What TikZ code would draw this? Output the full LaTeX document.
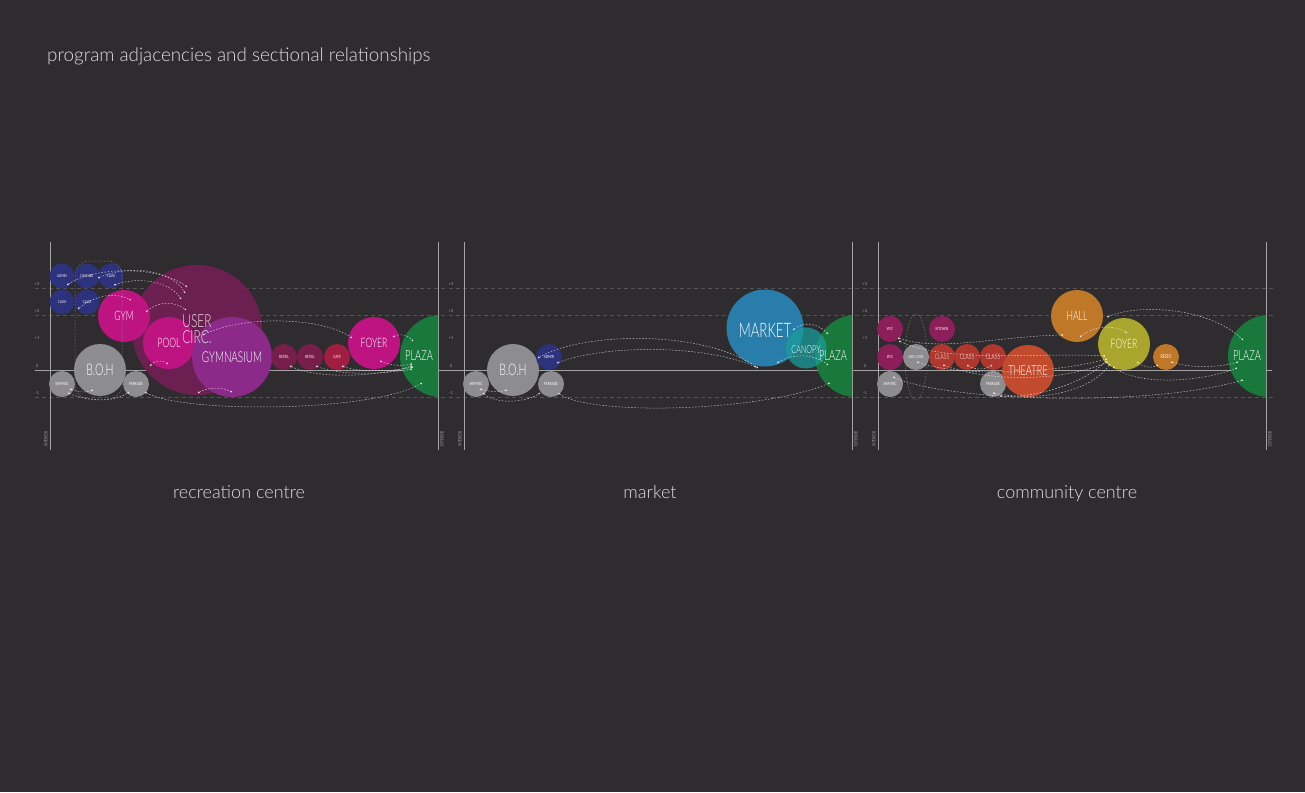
\documentclass[tikz,border=0pt]{standalone}
\usepackage{fontspec}
\setmainfont{Lato}
\newfontfamily\nf[FakeStretch=0.66]{Lato Light}
\newfontfamily\nfs[FakeStretch=0.7]{Lato}
\newfontfamily\lt{Lato Light}
\usetikzlibrary{arrows.meta}
\definecolor{bg}{HTML}{2E2C2E}
\definecolor{cblue}{HTML}{2D327D}
\definecolor{cmag}{HTML}{BE1482}
\definecolor{cuser}{HTML}{6C2052}
\definecolor{cgymn}{HTML}{8B2A88}
\definecolor{cgray}{HTML}{8D8C8E}
\definecolor{cretail}{HTML}{781E4B}
\definecolor{ccafe}{HTML}{A01E41}
\definecolor{cgreen}{HTML}{19783C}
\definecolor{cmarket}{HTML}{287DAA}
\definecolor{ccanopy}{HTML}{1A9C9A}
\definecolor{cwc}{HTML}{8C1E5A}
\definecolor{cclass}{HTML}{AF372D}
\definecolor{ctheatre}{HTML}{C34B2D}
\definecolor{chall}{HTML}{BE7828}
\definecolor{cfoyer}{HTML}{AAA52D}
\definecolor{ctext}{HTML}{DCDCDC}
\definecolor{cline}{HTML}{A3A3A3}
\definecolor{cgrid}{HTML}{555355}
\tikzset{
  cir/.style={circle, inner sep=0pt, text=white, font=\nf},
  lbl/.style={inner sep=0pt, text=white, font=\nf},
  con/.style={draw=white, opacity=0.7, line width=0.5pt, dash pattern=on 1.6pt off 1.6pt,
    {Circle[length=1.8pt]}-{Circle[length=1.8pt]}},
  core/.style={draw=cline, opacity=0.6, line width=0.5pt, dash pattern=on 1.6pt off 1.6pt},
  grid/.style={draw=cgrid, line width=0.6pt, dash pattern=on 4pt off 3pt},
  axis/.style={draw=cline, line width=0.9pt},
  tick/.style={inner sep=0pt, text=cline, font=\fontsize{4}{4}\selectfont},
  side/.style={inner sep=0pt, text=cline, font=\nfs\fontsize{4.6}{5}\selectfont, rotate=90},
  ttl/.style={inner sep=0pt, text=ctext, font=\lt\fontsize{18.8}{22}\selectfont},
  sub/.style={inner sep=0pt, text=ctext, font=\lt\fontsize{18}{22}\selectfont}
}
\begin{document}
\begin{tikzpicture}[x=1pt,y=-1pt]
\useasboundingbox (0,0) rectangle (1305,792);
\fill[bg] (0,0) rectangle (1305,792);

% titles
\node[ttl, anchor=base west] (title) at (47,61) {program adjacencies and sectional relationships};
\node[sub, anchor=base] (t1) at (239,498) {recreation centre};
\node[sub, anchor=base] (t2) at (650,498) {market};
\node[sub, anchor=base] (t3) at (1067,498) {community centre};

% grids for three panels
\foreach \dx/\k in {0/a,414/b,828/c}{
  \begin{scope}[shift={(\dx,0)}]
    \draw[grid] (35,288) -- (445,288);
    \draw[grid] (35,315) -- (445,315);
    \draw[grid] (35,397) -- (445,397);
    \draw[axis] (50,242) -- (50,450);
    \draw[axis] (438,242) -- (438,450);
    \node[tick] (p3\k) at (37,284) {+3};
    \node[tick] (p2\k) at (37,311) {+2};
    \node[tick] (p1\k) at (37,338) {+1};
    \node[tick] (z\k) at (37,366) {0};
    \node[tick] (m1\k) at (37,393) {-1};
    \node[side] (int\k) at (46,439) {INTERIOR};
    \node[side] (ext\k) at (442,439) {EXTERIOR};
  \end{scope}
}
\draw[axis] (35,370) -- (1272,370);

% ================= panel 1: recreation centre =================
\node[cir, fill=cuser, minimum size=130pt] (user) at (197,330) {};
\node[cir, fill=cblue, minimum size=25pt, font=\nfs\fontsize{4}{4}\selectfont] (admin) at (62,276) {ADMIN};
\node[cir, fill=cblue, minimum size=25pt, font=\nfs\fontsize{4}{4}\selectfont] (daycare) at (87,276) {DAYCARE};
\node[cir, fill=cblue, minimum size=25pt, font=\nfs\fontsize{4}{4}\selectfont] (classa) at (111,276) {CLASS};
\node[cir, fill=cblue, minimum size=25pt, font=\nfs\fontsize{4}{4}\selectfont] (classb) at (62,302) {CLASS};
\node[cir, fill=cblue, minimum size=25pt, font=\nfs\fontsize{4}{4}\selectfont] (classc) at (87,302) {CLASS};
\node[cir, fill=cmag, minimum size=52pt, font=\nf\fontsize{13}{13}\selectfont] (gym) at (124,316) {GYM};
\node[cir, fill=cmag, minimum size=52pt, font=\nf\fontsize{13}{13}\selectfont] (pool) at (169,343) {POOL};
\node[cir, fill=cgymn, minimum size=80pt] (gymn) at (232,357) {};
\node[lbl, font=\nf\fontsize{15}{15}\selectfont] (gymnl) at (232,357) {GYMNASIUM};
\node[lbl, align=left, text opacity=0.85, font=\nf\fontsize{18}{16}\selectfont] (userl) at (197,329) {USER\\CIRC.};
\node[cir, fill=cgray, minimum size=52pt, font=\nf\fontsize{16}{16}\selectfont] (boh) at (100,370) {B.O.H};
\node[cir, fill=cgray, minimum size=26pt, font=\nfs\fontsize{4.3}{4}\selectfont] (ship) at (62,384) {SHIP/REC};
\node[cir, fill=cgray, minimum size=26pt, font=\nfs\fontsize{4.3}{4}\selectfont] (park) at (136,384) {PARKADE};
\node[cir, fill=cretail, minimum size=26pt, font=\nfs\fontsize{4.3}{4}\selectfont] (ret1) at (284,357) {RETAIL};
\node[cir, fill=cretail, minimum size=26pt, font=\nfs\fontsize{4.3}{4}\selectfont] (ret2) at (310,357) {RETAIL};
\node[cir, fill=ccafe, minimum size=26pt, font=\nfs\fontsize{4.3}{4}\selectfont] (cafe) at (337,357) {CAFE};
\node[cir, fill=cmag, minimum size=52pt, font=\nf\fontsize{13}{13}\selectfont] (foyer) at (374,343) {FOYER};
\begin{scope}
  \clip (0,0) rectangle (438,792);
  \node[cir, fill=cgreen, minimum size=82pt] (plaza) at (441,356) {};
\end{scope}
\node[lbl, font=\nf\fontsize{14}{14}\selectfont] (plazal) at (419,356) {PLAZA};
\draw[core, rounded corners=14pt] (75,261) rectangle (122,399);

\coordinate (a1) at (67,285);  \coordinate (a2) at (187,287);
\coordinate (a3) at (98,278);  \coordinate (a4) at (185,293);
\coordinate (a5) at (114,285); \coordinate (a6) at (181,299);
\coordinate (a7) at (78,309);  \coordinate (a8) at (131,300);
\coordinate (a9) at (146,312); \coordinate (a10) at (186,310);
\coordinate (a11) at (203,335); \coordinate (a12) at (352,338);
\coordinate (a13) at (393,337); \coordinate (a14) at (413,341);
\coordinate (a15) at (290,366); \coordinate (a16) at (412,366);
\coordinate (a17) at (316,366); \coordinate (a18) at (412,369);
\coordinate (a19) at (342,366); \coordinate (a20) at (413,367);
\coordinate (a21) at (380,361); \coordinate (a22) at (412,364);
\coordinate (a23) at (68,393);  \coordinate (a24) at (129,392);
\coordinate (a25) at (70,389);  \coordinate (a26) at (93,390);
\coordinate (a27) at (145,392); \coordinate (a28) at (422,383);
\coordinate (a29) at (150,366); \coordinate (a30) at (168,364);
\coordinate (a31) at (198,393); \coordinate (a32) at (232,392);
\draw[con] (a1) .. controls (95,266) and (160,266) .. (a2);
\draw[con] (a3) .. controls (130,264) and (172,270) .. (a4);
\draw[con] (a5) .. controls (140,276) and (170,282) .. (a6);
\draw[con] (a7) .. controls (95,295) and (115,292) .. (a8);
\draw[con] (a9) .. controls (160,300) and (176,302) .. (a10);
\draw[con] (a11) .. controls (240,316) and (320,316) .. (a12);
\draw[con] (a13) .. controls (400,333) and (408,335) .. (a14);
\draw[con] (a15) .. controls (320,380) and (380,376) .. (a16);
\draw[con] (a17) .. controls (340,376) and (385,374) .. (a18);
\draw[con] (a19) .. controls (360,373) and (395,371) .. (a20);
\draw[con] (a21) .. controls (392,366) and (402,366) .. (a22);
\draw[con] (a23) .. controls (90,402) and (115,402) .. (a24);
\draw[con] (a25) .. controls (78,392) and (86,393) .. (a26);
\draw[con] (a27) .. controls (180,413) and (370,413) .. (a28);
\draw[con] (a29) .. controls (155,360) and (162,360) .. (a30);
\draw[con] (a31) .. controls (208,387) and (222,387) .. (a32);

% ================= panel 2: market =================
\node[cir, fill=cgray, minimum size=52pt, font=\nf\fontsize{16}{16}\selectfont] (boh2) at (513,370) {B.O.H};
\node[cir, fill=cblue, minimum size=26pt, font=\nfs\fontsize{4.3}{4}\selectfont] (admin2) at (549,357) {ADMIN};
\node[cir, fill=cgray, minimum size=26pt, font=\nfs\fontsize{4.3}{4}\selectfont] (ship2) at (476,384) {SHIP/REC};
\node[cir, fill=cgray, minimum size=26pt, font=\nfs\fontsize{4.3}{4}\selectfont] (park2) at (551,384) {PARKADE};
\node[cir, fill=cmarket, minimum size=77pt] (market) at (765,328) {};
\begin{scope}
  \clip (0,0) rectangle (852,792);
  \node[cir, fill=cgreen, minimum size=82pt] (plaza2) at (856,356) {};
\end{scope}
\node[cir, fill=ccanopy, fill opacity=0.75, minimum size=41pt] (canopy) at (806,348) {};
\node[lbl, font=\nf\fontsize{20}{20}\selectfont] (marketl) at (765,330) {MARKET};
\node[lbl, font=\nf\fontsize{11}{11}\selectfont] (canopyl) at (806,350) {CANOPY};
\node[lbl, font=\nf\fontsize{14}{14}\selectfont] (plaza2l) at (833,356) {PLAZA};

\coordinate (b1) at (538,358); \coordinate (b2) at (758,368);
\coordinate (b3) at (557,363); \coordinate (b4) at (756,367);
\coordinate (b5) at (480,389); \coordinate (b6) at (507,390);
\coordinate (b7) at (483,393); \coordinate (b8) at (540,393);
\coordinate (b9) at (558,393); \coordinate (b10) at (830,383);
\coordinate (b11) at (793,330); \coordinate (b12) at (828,334);
\coordinate (b13) at (777,363); \coordinate (b14) at (828,365);
\draw[con] (b1) .. controls (580,333) and (700,328) .. (b2);
\draw[con] (b3) .. controls (600,346) and (700,343) .. (b4);
\draw[con] (b5) .. controls (490,392) and (500,392) .. (b6);
\draw[con] (b7) .. controls (495,404) and (525,403) .. (b8);
\draw[con] (b9) .. controls (590,416) and (760,412) .. (b10);
\draw[con] (b11) .. controls (805,320) and (820,325) .. (b12);
\draw[con] (b13) .. controls (795,352) and (815,355) .. (b14);

% ================= panel 3: community centre =================
\draw[core] (916,357) ellipse [x radius=11, y radius=43];
\node[cir, fill=cwc, minimum size=26pt, font=\nfs\fontsize{4.3}{4}\selectfont] (wc1) at (890,329) {W/C};
\node[cir, fill=cwc, minimum size=26pt, font=\nfs\fontsize{4.3}{4}\selectfont] (wc2) at (890,357) {W/C};
\node[cir, fill=cgray, minimum size=26pt, font=\nfs\fontsize{4.3}{4}\selectfont] (ship3) at (890,384) {SHIP/REC};
\node[cir, fill=cgray, minimum size=26pt, font=\nfs\fontsize{3.8}{4}\selectfont] (serv) at (916,357) {SERV. CORE};
\node[cir, fill=cwc, minimum size=26pt, font=\nfs\fontsize{4.3}{4}\selectfont] (kitchen) at (942,329) {KITCHEN};
\node[cir, fill=cclass, minimum size=26pt, font=\nf\fontsize{7.5}{7}\selectfont] (cl1) at (942,357) {CLASS};
\node[cir, fill=cclass, minimum size=26pt, font=\nf\fontsize{7.5}{7}\selectfont] (cl2) at (967,357) {CLASS};
\node[cir, fill=cclass, minimum size=26pt, font=\nf\fontsize{7.5}{7}\selectfont] (cl3) at (993,357) {CLASS};
\node[cir, fill=cgray, minimum size=26pt, font=\nfs\fontsize{4.3}{4}\selectfont] (park3) at (993,384) {PARKADE};
\node[cir, fill=ctheatre, minimum size=52pt, font=\nf\fontsize{14}{14}\selectfont] (theatre) at (1028,371) {THEATRE};
\node[cir, fill=chall, minimum size=52pt, font=\nf\fontsize{13}{13}\selectfont] (hall) at (1077,316) {HALL};
\node[cir, fill=cfoyer, minimum size=52pt, font=\nf\fontsize{13}{13}\selectfont] (foyer3) at (1124,344) {FOYER};
\node[cir, fill=chall, minimum size=26pt, font=\nfs\fontsize{5}{5}\selectfont] (resto) at (1166,357) {RESTO};
\begin{scope}
  \clip (0,0) rectangle (1266,792);
  \node[cir, fill=cgreen, minimum size=82pt] (plaza3) at (1269,356) {};
\end{scope}
\node[lbl, font=\nf\fontsize{14}{14}\selectfont] (plaza3l) at (1247,356) {PLAZA};

\coordinate (c1) at (898,338);  \coordinate (c2) at (1063,335);
\coordinate (c3) at (899,341);  \coordinate (c4) at (1105,356);
\coordinate (c5) at (917,362);  \coordinate (c6) at (1107,359);
\coordinate (c7) at (943,365);  \coordinate (c8) at (1108,362);
\coordinate (c9) at (893,377);  \coordinate (c10) at (1243,380);
\coordinate (c11) at (993,393); \coordinate (c12) at (1110,364);
\coordinate (c13) at (1080,337); \coordinate (c14) at (1127,333);
\coordinate (c15) at (1107,317); \coordinate (c16) at (1243,340);
\coordinate (c17) at (1113,367); \coordinate (c18) at (1237,368);
\coordinate (c19) at (1137,362); \coordinate (c20) at (1158,365);
\coordinate (c21) at (1171,362); \coordinate (c22) at (1238,362);
\coordinate (c23) at (1000,396); \coordinate (c24) at (1106,361);
\coordinate (c25) at (967,365);  \coordinate (c26) at (992,365);
\draw[con] (c1) .. controls (940,352) and (1000,336) .. (c2);
\draw[con] (c3) .. controls (950,364) and (1040,352) .. (c4);
\draw[con] (c5) .. controls (960,377) and (1050,374) .. (c6);
\draw[con] (c7) .. controls (990,382) and (1060,382) .. (c8);
\draw[con] (c9) .. controls (950,402) and (1150,407) .. (c10);
\draw[con] (c11) .. controls (1040,402) and (1090,392) .. (c12);
\draw[con] (c13) .. controls (1095,325) and (1115,325) .. (c14);
\draw[con] (c15) .. controls (1140,303) and (1210,308) .. (c16);
\draw[con] (c17) .. controls (1140,386) and (1200,382) .. (c18);
\draw[con] (c19) .. controls (1145,368) and (1152,368) .. (c20);
\draw[con] (c21) .. controls (1195,369) and (1220,367) .. (c22);
\draw[con] (c23) .. controls (1040,398) and (1085,382) .. (c24);
\draw[con] (c25) .. controls (975,370) and (985,370) .. (c26);
\end{tikzpicture}
\end{document}
